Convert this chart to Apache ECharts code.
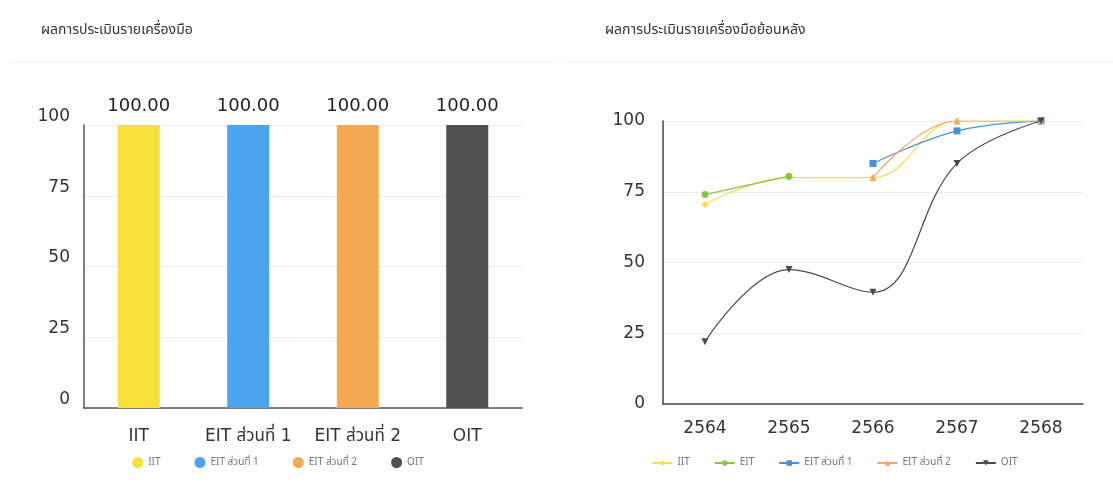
<!DOCTYPE html>
<html><head><meta charset="utf-8">
<script src="https://cdn.jsdelivr.net/npm/echarts@6/dist/echarts.min.js"></script>
<style>
html,body{margin:0;padding:0;background:#fff;width:1113px;height:490px;overflow:hidden;}
#a{position:absolute;left:0;top:0;width:556px;height:490px;}
#b{position:absolute;left:556px;top:0;width:557px;height:490px;}
</style></head><body>
<div id="a"></div><div id="b"></div>
<script>
const FONT = "'DejaVu Sans','Noto Sans Thai','Noto Sans',sans-serif";
const TFONT = "'Noto Sans Thai','Noto Sans',sans-serif";
// left chart data
const barTitle = 'ผลการประเมินรายเครื่องมือ';
const barCategories = ['IIT', 'EIT ส่วนที่ 1', 'EIT ส่วนที่ 2', 'OIT'];
const barValues = [100, 100, 100, 100];
const barColors = ['#F7E03A', '#4AA5EE', '#F5A852', '#505050'];
// right chart data
const lineTitle = 'ผลการประเมินรายเครื่องมือย้อนหลัง';
const years = ['2564', '2565', '2566', '2567', '2568'];
const lineNames = ['IIT', 'EIT', 'EIT ส่วนที่ 1', 'EIT ส่วนที่ 2', 'OIT'];
const iitVals = [70.5, 80, 80, 100, 100];
const eitVals = [74, 80.5, null, null, null];
const eit1Vals = [null, null, 85, 96.5, 100];
const eit2Vals = [null, null, 80, 100, 100];
const oitVals = [22, 47.5, 39.5, 85, 100];

const lineColors = ['#F2DF4A', '#8CC63F', '#4A90D9', '#F2A66A', '#4A4A4A'];
const lineSymbols = ['diamond', 'circle', 'rect', 'triangle', 'triangle'];

const c1 = echarts.init(document.getElementById('a'));
c1.setOption({
  animation: false,
  textStyle: {fontFamily: FONT},
  title: {text: barTitle, left: 36, top: 19, textStyle: {fontSize: 14, fontWeight: 'normal', color: '#333', fontFamily: TFONT}},
  graphic: [{type: 'line', shape: {x1: 10, y1: 62, x2: 556, y2: 62}, style: {stroke: '#f0f0f0', lineWidth: 1}}],
  legend: {bottom: 17, left: 'center', itemWidth: 11, itemHeight: 11, itemGap: 34, icon: 'circle',
    textStyle: {fontSize: 10, color: '#777', fontFamily: TFONT}, data: barCategories},
  grid: {left: 84, right: 34, top: 125, bottom: 82},
  xAxis: {type: 'category', data: barCategories,
    axisLine: {lineStyle: {color: '#555', width: 1.5}}, axisTick: {show: false},
    axisLabel: {fontSize: 17, color: '#333', margin: 20, interval: 0, hideOverlap: false, fontFamily: FONT}},
  yAxis: {type: 'value', min: 0, max: 100, interval: 25,
    axisLine: {show: true, lineStyle: {color: '#555', width: 1.5}},
    axisLabel: {fontSize: 17, color: '#333', margin: 14, verticalAlign: 'bottom', fontFamily: FONT},
    splitLine: {lineStyle: {color: '#ececec'}}},
  series: barCategories.map((name, i) => ({
    name: name, type: 'bar', stack: 'all', barWidth: 42,
    itemStyle: {color: barColors[i]},
    label: {show: true, position: 'top', distance: 10, fontSize: 18, color: '#222',
      formatter: p => p.value.toFixed(2), fontFamily: FONT},
    data: barCategories.map((c, j) => j === i ? barValues[i] : null)
  }))
});

const c2 = echarts.init(document.getElementById('b'));
const lineData = [iitVals, eitVals, eit1Vals, eit2Vals, oitVals];
c2.setOption({
  animation: false,
  textStyle: {fontFamily: FONT},
  title: {text: lineTitle, left: 44, top: 19, textStyle: {fontSize: 14, fontWeight: 'normal', color: '#333', fontFamily: TFONT}},
  graphic: [{type: 'line', shape: {x1: 10, y1: 62, x2: 557, y2: 62}, style: {stroke: '#f0f0f0', lineWidth: 1}}],
  legend: {bottom: 17, left: 'center', itemWidth: 20, itemHeight: 7, itemGap: 24,
    textStyle: {fontSize: 10, color: '#777', fontFamily: TFONT}, data: lineNames},
  grid: {left: 107, right: 30, top: 121, bottom: 86},
  xAxis: {type: 'category', data: years, boundaryGap: true,
    axisLine: {lineStyle: {color: '#444', width: 1.5}}, axisTick: {show: false},
    axisLabel: {fontSize: 17, color: '#333', margin: 16, interval: 0, fontFamily: FONT}},
  yAxis: {type: 'value', min: 0, max: 100, interval: 25,
    axisLine: {show: true, lineStyle: {color: '#444', width: 1.5}},
    axisLabel: {fontSize: 17, color: '#333', margin: 18, fontFamily: FONT},
    splitLine: {lineStyle: {color: '#ececec'}}},
  series: lineNames.map((name, i) => ({
    name: name, type: 'line', smooth: 0.4, connectNulls: false,
    symbol: lineSymbols[i], symbolSize: 7, symbolRotate: i === 4 ? 180 : 0,
    lineStyle: {width: 1.2, color: lineColors[i]},
    itemStyle: {color: lineColors[i]},
    data: lineData[i]
  }))
});
</script></body></html>
